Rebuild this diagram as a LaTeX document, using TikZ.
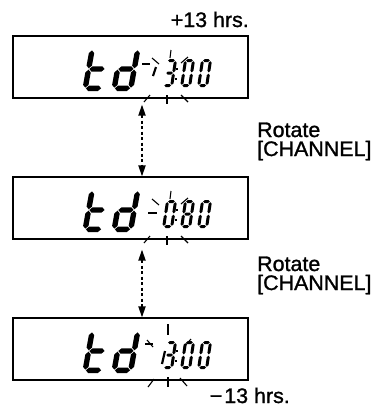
\documentclass[tikz,border=0pt]{standalone}
\usepackage{fontspec}
\setmainfont{Liberation Sans}
\newfontfamily\lab[FakeStretch=1.02,FakeBold=1.2]{Liberation Sans}
\usetikzlibrary{arrows.meta}
\newcommand\hseg[3]{\fill (#1,#3) -- (#1+\segr,#3+\segr) -- (#2-\segr,#3+\segr) -- (#2,#3) -- (#2-\segr,#3-\segr) -- (#1+\segr,#3-\segr) -- cycle;}
\newcommand\vseg[3]{\fill (#1,#2) -- (#1+\segr,#2+\segr) -- (#1+\segr,#3-\segr) -- (#1,#3) -- (#1-\segr,#3-\segr) -- (#1-\segr,#2+\segr) -- cycle;}
\newcommand\SA{\hseg{\segr+\gp}{\dgw-\segr-\gp}{\dgh-\segr}}
\newcommand\SG{\hseg{\segr+\gp}{\dgw-\segr-\gp}{\dgh/2}}
\newcommand\SD{\hseg{\segr+\gp}{\dgw-\segr-\gp}{\segr}}
\newcommand\SF{\vseg{\segr}{\dgh/2+\gp}{\dgh-\segr-\gp}}
\newcommand\SE{\vseg{\segr}{\segr+\gp}{\dgh/2-\gp}}
\newcommand\SB{\vseg{\dgw-\segr}{\dgh/2+\gp}{\dgh-\segr-\gp}}
\newcommand\SC{\vseg{\dgw-\segr}{\segr+\gp}{\dgh/2-\gp}}
% #1 x, #2 y (bottom-left, px), #3 width, #4 height, #5 half thickness, #6 slant, #7 segments
\newcommand\lcd[7]{\begin{scope}[shift={(#1,#2)},x=1pt,y={(#6pt,1pt)}]\def\dgw{#3}\def\dgh{#4}\def\segr{#5}\def\gp{0.7}#7\end{scope}}
\tikzset{
  lcdbox/.style={draw,line width=1.1pt,minimum width=235pt,minimum height=62pt,inner sep=0pt},
  lbl/.style={font={\lab\fontsize{21}{22}\selectfont},inner sep=0pt},
  spark/.style={line width=1.1pt},
  small/.style={line width=2.2pt},
  dotarrow/.style={line width=1.8pt,dash pattern=on 3pt off 2.5pt,{Triangle[width=7pt,length=11pt]}-{Triangle[width=7pt,length=11pt]}}
}
\begin{document}
\begin{tikzpicture}[x=1pt,y=-1pt]
\useasboundingbox (0,0) rectangle (377,408);
\node[lcdbox] (b1) at (130.5,67) {};
\node[lcdbox] (b2) at (130.5,208) {};
\node[lcdbox] (b3) at (130.5,349) {};
% digits
\foreach \T in {36,177,318}{
  \lcd{82}{\T+55}{22}{44}{2.7}{0.18}{\SF\SE\SG\SD}
  \lcd{111}{\T+55}{22}{44}{2.7}{0.18}{\SB\SC\SG\SE\SD}
  \lcd{180}{\T+51}{11}{28}{1.5}{0.15}{\SA\SB\SC\SD\SE\SF}
  \lcd{197}{\T+51}{11}{28}{1.5}{0.15}{\SA\SB\SC\SD\SE\SF}
  \fill (176.2,\T+32) rectangle ++(2.2,2.2);
  \fill (174.8,\T+42) rectangle ++(2.2,2.2);
}
% box 1
\lcd{162}{36+51}{11}{28}{1.5}{0.15}{\SA\SB\SG\SC\SD}
\draw[small] (142,64) -- (150,64);
\draw[small] (156,67) -- (153,76);
% box 2
\lcd{162}{177+51}{11}{28}{1.5}{0.15}{\SA\SB\SC\SD\SE\SF}
\lcd{180}{177+51}{11}{28}{1.5}{0.15}{\SG}
\draw[small] (148,213) -- (157,213);
% box 3
\lcd{162}{318+51}{11}{28}{1.5}{0.15}{\SA\SB\SG\SC\SD}
\draw[small] (145,344) -- (153,344);
\draw[small] (165,351) -- (162,364);
% sparkles
\foreach \T in {36,177}{
  \draw[spark] (171,\T+14) -- (170,\T+22);
  \draw[spark] (152,\T+22) -- (159,\T+28);
  \draw[spark] (188,\T+21) -- (181,\T+27);
  \draw[spark] (150,\T+59) -- (144,\T+66);
  \draw[spark] (167,\T+59) -- (167,\T+68);
  \draw[spark] (181,\T+59) -- (188,\T+66);
}
\draw[spark] (168,324) -- (168,335);
\draw[spark] (147,340) -- (153,347);
\draw[spark] (191,339) -- (184,347);
\draw[spark] (154,379) -- (148,387);
\draw[spark] (168,377) -- (168,387);
\draw[spark] (180,378) -- (187,386);
% arrows
\coordinate (ax) at (142,0);
\draw[dotarrow] ([yshift=-6pt]b1.south -| ax) -- (b2.north -| ax);
\draw[dotarrow] ([yshift=-10pt]b2.south -| ax) -- (b3.north -| ax);
% labels
\node[lbl,anchor=base east] (plus) at (249,27) {+13 hrs.};
\node[lbl,anchor=base west] (r1a) at (257,137) {Rotate};
\node[lbl,anchor=base west] (r1b) at (257,156) {[CHANNEL]};
\node[lbl,anchor=base west] (r2a) at (257,271) {Rotate};
\node[lbl,anchor=base west] (r2b) at (257,290) {[CHANNEL]};
\node[lbl,anchor=base east] (minus) at (290,403) {−\kern2pt13 hrs.};
\end{tikzpicture}
\end{document}
